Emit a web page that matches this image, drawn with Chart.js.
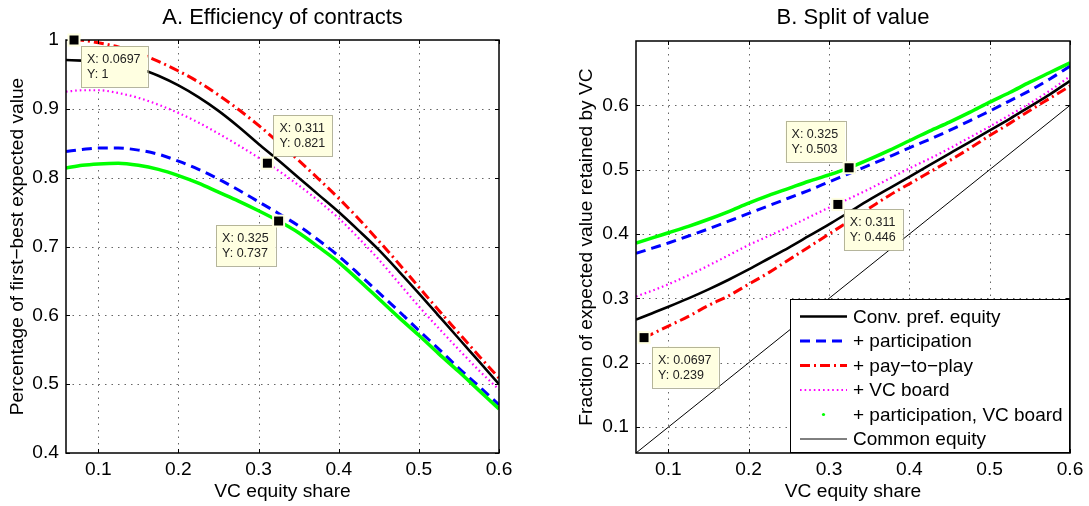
<!DOCTYPE html>
<html lang="en">
<head>
  <meta charset="UTF-8">
  <title>Efficiency of contracts / Split of value</title>
  <style>
    html, body { margin: 0; padding: 0; background: #fff; }
    .wrap { position: relative; width: 1089px; height: 506px; }
    .panel { position: absolute; top: 0; }
  </style>
  <script src="https://cdn.jsdelivr.net/npm/chart.js"></script>
</head>
<body>
  <div class="wrap">
    <canvas id="effChart" class="panel" width="545" height="506" style="left:0"></canvas>
    <canvas id="splitChart" class="panel" width="544" height="506" style="left:545px"></canvas>
  </div>

  <script>
    const FONT = '"Liberation Sans", Arial, Helvetica, sans-serif';

    // VC equity share; the pay-to-play curves only start at 0.0697
    const xShare    = [0.0597, 0.08, 0.1, 0.125, 0.15, 0.175, 0.2, 0.225, 0.25, 0.275, 0.3, 0.325, 0.35, 0.375, 0.4, 0.425, 0.45, 0.475, 0.5, 0.525, 0.55, 0.575, 0.6];
    const xSharePTP = [0.0697, 0.08, 0.1, 0.125, 0.15, 0.175, 0.2, 0.225, 0.25, 0.275, 0.3, 0.325, 0.35, 0.375, 0.4, 0.425, 0.45, 0.475, 0.5, 0.525, 0.55, 0.575, 0.6];
    const xTicks = [0.1, 0.2, 0.3, 0.4, 0.5, 0.6];

    // A. Efficiency of contracts
    const effYTicks        = [0.4, 0.5, 0.6, 0.7, 0.8, 0.9, 1];
    const effConvPref      = [0.971, 0.970, 0.969, 0.966, 0.959, 0.948, 0.934, 0.917, 0.897, 0.874, 0.849, 0.825, 0.800, 0.775, 0.750, 0.723, 0.695, 0.664, 0.632, 0.599, 0.566, 0.533, 0.500];
    const effParticipation = [0.838, 0.841, 0.843, 0.843, 0.840, 0.834, 0.824, 0.812, 0.798, 0.782, 0.765, 0.748, 0.730, 0.709, 0.686, 0.660, 0.633, 0.606, 0.578, 0.551, 0.523, 0.497, 0.470];
    const effPayToPlay     = [1.000, 0.9995, 0.996, 0.990, 0.981, 0.969, 0.955, 0.939, 0.920, 0.899, 0.876, 0.851, 0.825, 0.798, 0.770, 0.740, 0.708, 0.675, 0.641, 0.607, 0.574, 0.541, 0.509];
    const effVcBoard       = [0.925, 0.927, 0.927, 0.923, 0.916, 0.906, 0.894, 0.880, 0.864, 0.847, 0.829, 0.810, 0.789, 0.766, 0.741, 0.712, 0.681, 0.647, 0.613, 0.581, 0.550, 0.520, 0.492];
    const effPartVcBoard   = [0.814, 0.818, 0.820, 0.821, 0.818, 0.812, 0.803, 0.792, 0.779, 0.766, 0.752, 0.737, 0.720, 0.699, 0.677, 0.651, 0.624, 0.597, 0.571, 0.544, 0.518, 0.491, 0.464];
    const effTips = [[0.0697, 1], [0.311, 0.821], [0.325, 0.737]];

    // B. Split of value
    const splitYTicks        = [0.1, 0.2, 0.3, 0.4, 0.5, 0.6];
    const splitConvPref      = [0.267, 0.277, 0.287, 0.300, 0.314, 0.329, 0.345, 0.362, 0.379, 0.397, 0.415, 0.434, 0.453, 0.471, 0.489, 0.507, 0.525, 0.543, 0.561, 0.579, 0.598, 0.617, 0.638];
    const splitParticipation = [0.370, 0.378, 0.386, 0.397, 0.408, 0.420, 0.432, 0.444, 0.456, 0.468, 0.481, 0.494, 0.507, 0.520, 0.534, 0.547, 0.561, 0.576, 0.591, 0.607, 0.623, 0.641, 0.661];
    const splitPayToPlay     = [0.239, 0.245, 0.257, 0.272, 0.289, 0.304, 0.322, 0.340, 0.360, 0.380, 0.400, 0.420, 0.440, 0.460, 0.478, 0.496, 0.514, 0.533, 0.553, 0.572, 0.592, 0.611, 0.630];
    const splitVcBoard       = [0.303, 0.312, 0.322, 0.336, 0.351, 0.367, 0.383, 0.397, 0.411, 0.426, 0.441, 0.455, 0.470, 0.486, 0.502, 0.517, 0.533, 0.550, 0.567, 0.585, 0.603, 0.623, 0.645];
    const splitPartVcBoard   = [0.386, 0.394, 0.402, 0.412, 0.423, 0.435, 0.448, 0.460, 0.471, 0.482, 0.492, 0.503, 0.516, 0.530, 0.545, 0.560, 0.574, 0.589, 0.605, 0.620, 0.636, 0.651, 0.666];
    const xCommon     = [0.0597, 0.6];
    const splitCommon = [0.0597, 0.6];
    const splitTips = [[0.325, 0.503], [0.311, 0.446], [0.0697, 0.239]];

    const seriesLabels = ['Conv. pref. equity', '+ participation', '+ pay\u2212to\u2212play', '+ VC board', '+ participation, VC board', 'Common equity'];

    const styles = [
      { color: '#000000', width: 2.6, dash: [] },
      { color: '#0000ff', width: 3,   dash: [10, 6] },
      { color: '#ff0000', width: 3,   dash: [10, 4, 2, 4] },
      { color: '#ff00ff', width: 2.2, dash: [1.6, 3] },
      { color: '#00ff00', width: 3.5, dash: [] },
      { color: '#000000', width: 1,   dash: [] }
    ];

    function series(i, xs, ys) {
      const s = styles[i];
      return {
        label: seriesLabels[i],
        data: xs.map((x, k) => ({ x: x, y: ys[k] })),
        borderColor: s.color,
        borderWidth: s.width,
        borderDash: s.dash,
        borderCapStyle: 'butt',
        pointRadius: 0,
        fill: false,
        cubicInterpolationMode: 'monotone',
        order: 6 - i
      };
    }

    // dotted grid, box and inward ticks like the matlab axes
    const axesFrame = {
      id: 'axesFrame',
      beforeDatasetsDraw(chart) {
        const { ctx, chartArea: a, scales: { x, y } } = chart;
        ctx.save();
        ctx.strokeStyle = 'rgba(0,0,0,0.6)';
        ctx.lineWidth = 1;
        ctx.setLineDash([1.5, 5]);
        x.ticks.forEach(t => {
          const px = Math.round(x.getPixelForValue(t.value)) + 0.5;
          if (px < a.left + 3 || px > a.right - 3) return;
          ctx.beginPath(); ctx.moveTo(px, a.top); ctx.lineTo(px, a.bottom); ctx.stroke();
        });
        y.ticks.forEach(t => {
          const py = Math.round(y.getPixelForValue(t.value)) + 0.5;
          if (py < a.top + 3 || py > a.bottom - 3) return;
          ctx.beginPath(); ctx.moveTo(a.left, py); ctx.lineTo(a.right, py); ctx.stroke();
        });
        ctx.restore();
      },
      afterDatasetsDraw(chart) {
        const { ctx, chartArea: a, scales: { x, y } } = chart;
        ctx.save();
        ctx.strokeStyle = '#000';
        ctx.lineWidth = 1;
        x.ticks.forEach(t => {
          const px = Math.round(x.getPixelForValue(t.value)) + 0.5;
          ctx.beginPath();
          ctx.moveTo(px, a.bottom); ctx.lineTo(px, a.bottom - 4);
          ctx.moveTo(px, a.top); ctx.lineTo(px, a.top + 4);
          ctx.stroke();
        });
        y.ticks.forEach(t => {
          const py = Math.round(y.getPixelForValue(t.value)) + 0.5;
          ctx.beginPath();
          ctx.moveTo(a.left, py); ctx.lineTo(a.left + 4, py);
          ctx.moveTo(a.right, py); ctx.lineTo(a.right - 4, py);
          ctx.stroke();
        });
        ctx.lineWidth = 1.5;
        ctx.strokeRect(a.left, a.top, a.right - a.left, a.bottom - a.top);
        ctx.restore();
      }
    };

    // legend box in the lower right corner of panel B
    const cornerLegend = {
      id: 'cornerLegend',
      afterDraw(chart, args, opts) {
        if (!opts.show) return;
        const { ctx, chartArea: a } = chart;
        const w = 280, h = 154;
        const x0 = a.right - w, y0 = a.bottom - h;
        ctx.save();
        ctx.fillStyle = '#fff';
        ctx.fillRect(x0, y0, w, h);
        ctx.strokeStyle = '#000';
        ctx.lineWidth = 1;
        ctx.strokeRect(x0 + 0.5, y0 + 0.5, w - 1, h - 1);
        ctx.font = '19px ' + FONT;
        ctx.textBaseline = 'middle';
        ctx.fillStyle = '#000';
        chart.data.datasets.forEach((d, i) => {
          const ry = y0 + 17.5 + i * 24.5;
          if (i === 4) {
            ctx.fillStyle = d.borderColor;
            ctx.beginPath(); ctx.arc(x0 + 33.5, ry, 1.6, 0, Math.PI * 2); ctx.fill();
          } else {
            ctx.strokeStyle = d.borderColor;
            ctx.lineWidth = d.borderWidth;
            ctx.setLineDash(d.borderDash);
            ctx.beginPath(); ctx.moveTo(x0 + 10, ry); ctx.lineTo(x0 + 57, ry); ctx.stroke();
            ctx.setLineDash([]);
          }
          ctx.fillStyle = '#000';
          ctx.fillText(d.label, x0 + 63, ry + 1);
        });
        ctx.restore();
      }
    };

    // matlab style data cursors
    const dataTips = {
      id: 'dataTips',
      afterDraw(chart, args, opts) {
        const { ctx, scales: { x, y } } = chart;
        ctx.save();
        ctx.font = '12.5px ' + FONT;
        ctx.textBaseline = 'middle';
        opts.tips.forEach((tip, i) => {
          const mx = x.getPixelForValue(tip[0]);
          const my = y.getPixelForValue(tip[1]);
          const place = opts.place[i];
          const lines = ['X: ' + tip[0], 'Y: ' + tip[1]];
          const bw = Math.max(...lines.map(l => ctx.measureText(l).width)) + 13;
          const bh = 41;
          const bx = place[2] === 'l' ? mx + place[0] : mx - place[0] - bw;
          const by = place[3] === 't' ? my + place[1] : my - place[1] - bh;
          ctx.fillStyle = '#ffffe1';
          ctx.fillRect(bx, by, bw, bh);
          ctx.strokeStyle = 'rgba(150,150,120,0.7)';
          ctx.lineWidth = 1;
          ctx.strokeRect(Math.round(bx) + 0.5, Math.round(by) + 0.5, Math.round(bw), bh);
          ctx.fillStyle = '#222';
          ctx.fillText(lines[0], bx + 6, by + 13.5);
          ctx.fillText(lines[1], bx + 6, by + 28.5);
          ctx.fillStyle = '#ffffe1';
          ctx.fillRect(mx - 6.5, my - 6.5, 13, 13);
          ctx.fillStyle = '#000';
          ctx.fillRect(mx - 4.5, my - 4.5, 9, 9);
        });
        ctx.restore();
      }
    };

    function makeOptions(cfg) {
      const tickFont = { family: FONT, size: 19.2 };
      return {
        responsive: false,
        animation: false,
        events: [],
        layout: { padding: { left: 0, right: cfg.padRight, top: 0, bottom: 0 } },
        plugins: {
          legend: { display: false },
          tooltip: { enabled: false },
          title: {
            display: true, text: cfg.title, color: '#000', fullSize: false,
            font: { family: FONT, size: 22, weight: 'normal' },
            padding: { top: 4.8, bottom: cfg.titleGap }
          },
          dataTips: { tips: cfg.tips, place: cfg.place },
          cornerLegend: { show: cfg.legend }
        },
        scales: {
          x: {
            type: 'linear', min: 0.0597, max: 0.6,
            afterBuildTicks: s => { s.ticks = xTicks.map(v => ({ value: v })); },
            afterFit: s => { s.height = 53; s.paddingLeft = 0; s.paddingRight = 0; },
            grid: { display: false, drawTicks: false },
            border: { display: false },
            ticks: { padding: 5.5, color: '#000', font: tickFont, autoSkip: false, maxRotation: 0, callback: v => String(v) },
            title: { display: true, text: 'VC equity share', color: '#000', font: tickFont, padding: { top: 0, bottom: 2.6 } }
          },
          y: {
            type: 'linear', min: cfg.yMin, max: cfg.yMax,
            afterBuildTicks: s => { s.ticks = cfg.yTicks.map(v => ({ value: v })); },
            afterFit: s => { s.width = cfg.yWidth; s.paddingTop = 0; s.paddingBottom = 0; },
            grid: { display: false, drawTicks: false },
            border: { display: false },
            ticks: { padding: 7, color: '#000', font: tickFont, autoSkip: false, callback: v => String(v) },
            title: { display: true, text: cfg.yTitle, color: '#000', font: tickFont, padding: { top: cfg.yTitlePad, bottom: 0 } }
          }
        }
      };
    }

    new Chart(document.getElementById('effChart'), {
      type: 'line',
      data: {
        datasets: [
          series(0, xShare, effConvPref),
          series(1, xShare, effParticipation),
          series(2, xSharePTP, effPayToPlay),
          series(3, xShare, effVcBoard),
          series(4, xShare, effPartVcBoard)
        ]
      },
      options: makeOptions({
        title: 'A. Efficiency of contracts', titleGap: 8.8, padRight: 46,
        yMin: 0.4, yMax: 1, yTicks: effYTicks, yWidth: 66, yTitlePad: 6,
        yTitle: 'Percentage of first\u2212best expected value',
        tips: effTips, place: [[7, 6, 'l', 't'], [6, 7, 'l', 'b'], [3, 4, 'r', 't']],
        legend: false
      }),
      plugins: [axesFrame, cornerLegend, dataTips]
    });

    new Chart(document.getElementById('splitChart'), {
      type: 'line',
      data: {
        datasets: [
          series(0, xShare, splitConvPref),
          series(1, xShare, splitParticipation),
          series(2, xSharePTP, splitPayToPlay),
          series(3, xShare, splitVcBoard),
          series(4, xShare, splitPartVcBoard),
          series(5, xCommon, splitCommon)
        ]
      },
      options: makeOptions({
        title: 'B. Split of value', titleGap: 9.8, padRight: 19,
        yMin: 0.0597, yMax: 0.7, yTicks: splitYTicks, yWidth: 91, yTitlePad: 30.5,
        yTitle: 'Fraction of expected value retained by VC',
        tips: splitTips, place: [[4, 6, 'r', 'b'], [6, 5, 'l', 't'], [8, 9, 'l', 't']],
        legend: true
      }),
      plugins: [axesFrame, cornerLegend, dataTips]
    });
  </script>
</body>
</html>
